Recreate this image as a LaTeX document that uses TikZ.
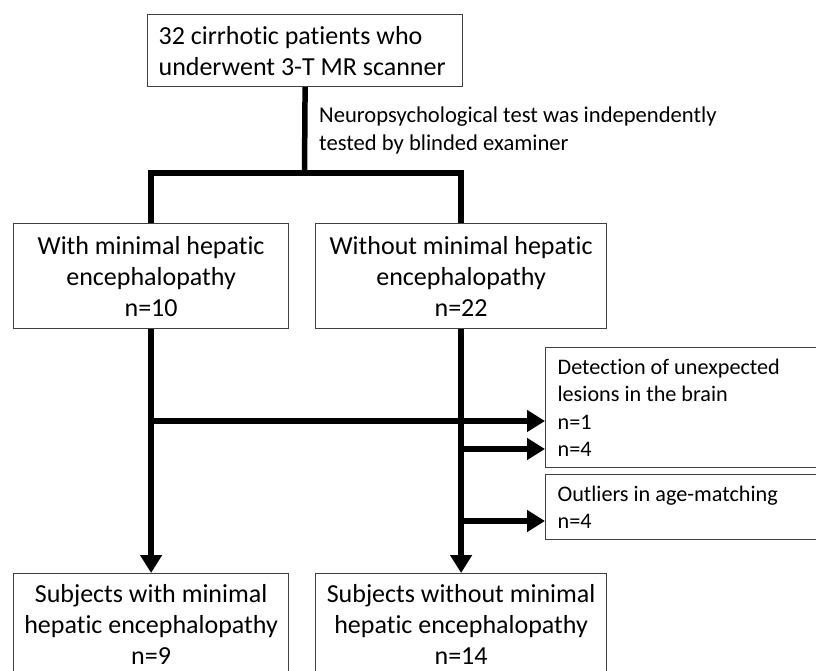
\documentclass[tikz,border=0pt]{standalone}
\usepackage{fontspec}
\setmainfont{Carlito}[Ligatures={NoCommon}]
\usetikzlibrary{arrows.meta}

\tikzset{
  boite/.style={draw=black!75, line width=1.2pt, anchor=north west,
    font=\fontsize{26}{31}\selectfont},
  boitecentre/.style={boite, inner sep=0pt, align=flush center, minimum height=105pt},
  boitecote/.style={boite, inner xsep=12pt, inner ysep=0pt, text width=280pt, align=flush left,
    font=\fontsize{22.2}{27.5}\selectfont},
  trait/.style={line width=5.5pt},
  fleche/.style={line width=6.5pt, -{Triangle[length=18pt,width=21pt]}}
}

\begin{document}
\begin{tikzpicture}[x=1pt,y=-1pt]
\path[use as bounding box, clip] (0,0) rectangle (816,670);

% Boite de depart
\node[boite, inner xsep=11pt, inner ysep=0pt, text width=293pt, align=flush left, minimum height=72pt]
  (depart) at (147,14) {32 cirrhotic patients who\\underwent 3-T MR scanner};
\node[anchor=west, inner sep=0pt, align=flush left, font=\fontsize{22.6}{27.3}\selectfont]
  (test) at (319,130.5) {Neuropsychological test was independently\\tested by blinded examiner};

% Deux groupes
\node[boitecentre, text width=275pt] (avec) at (13,223)
  {With minimal hepatic\\encephalopathy\\n=10};
\node[boitecentre, text width=291pt] (sans) at (315,223)
  {Without minimal hepatic\\encephalopathy\\n=22};

% Exclusions
\node[boitecote, minimum height=120pt] (lesion) at (545,347)
  {Detection of unexpected\\lesions in the brain\\n=1\\n=4};
\node[boitecote, minimum height=65pt] (age) at (545,474)
  {Outliers in age-matching\\n=4};

% Sujets retenus
\node[boitecentre, text width=275pt, minimum height=101pt] (avecfin) at (13,573)
  {Subjects with minimal\\hepatic encephalopathy\\n=9};
\node[boitecentre, text width=291pt, minimum height=101pt] (sansfin) at (315,573)
  {Subjects without minimal\\hepatic encephalopathy\\n=14};

% Liaisons
\coordinate (fourche) at (304.5,173);
\draw[trait] (depart.south) -- (fourche);
\draw[trait] (avec.north) |- (fourche) -| (sans.north);

\coordinate (e1) at (150.5,421);
\coordinate (e2) at (460.5,449);
\coordinate (e3) at (460.5,521);
\draw[fleche] (avec.south) -- (avecfin.north);
\draw[fleche] (sans.south) -- (sansfin.north);
\draw[fleche, line width=6pt] (e1) -- (e1 -| lesion.west);
\draw[fleche, line width=6pt] (e2) -- (e2 -| lesion.west);
\draw[fleche, line width=6pt] (e3) -- (e3 -| age.west);
\end{tikzpicture}
\end{document}
